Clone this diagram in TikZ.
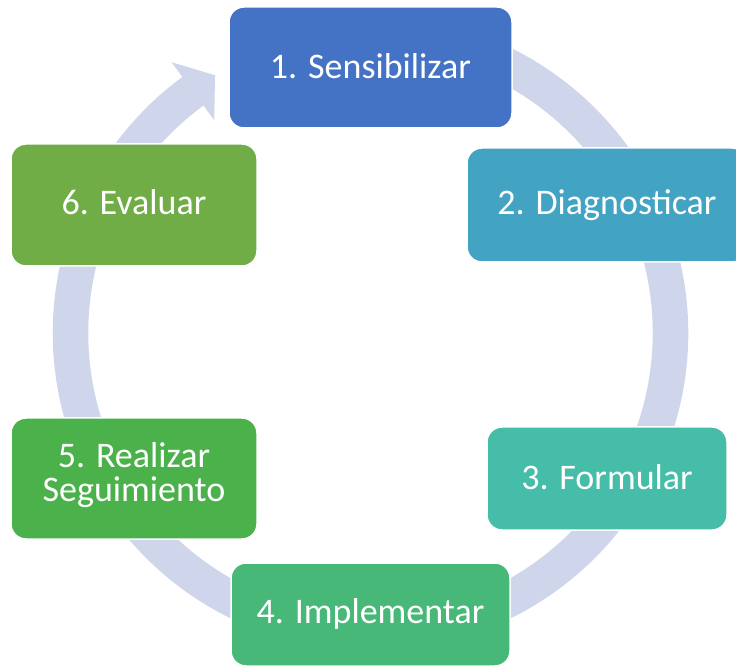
\documentclass[tikz,border=0pt]{standalone}
\usepackage{fontspec}
\setmainfont{Carlito}
\definecolor{ringc}{HTML}{CFD5EA}
\definecolor{cA}{HTML}{4472C4}
\definecolor{cB}{HTML}{43A3C2}
\definecolor{cC}{HTML}{45BDA8}
\definecolor{cD}{HTML}{47B878}
\definecolor{cE}{HTML}{4BB14A}
\definecolor{cF}{HTML}{70AD47}
\begin{document}
\begin{tikzpicture}[x=1pt,y=1pt,
  box/.style={draw=white, line width=1.5pt, rounded corners=15pt, inner sep=0pt},
  lbl/.style={anchor=base, text=white, inner sep=0pt, font=\fontsize{36}{34}\selectfont}]
\useasboundingbox (0,0) rectangle (736,667);
\clip (0,0) rectangle (736,667);
% ring with arrowhead
\begin{scope}[shift={(370.5,334)}]
\fill[ringc] (100:317.75) arc[start angle=100, end angle=-233.7, radius=317.75]
  -- (-233.7:336) -- (121.1:301) -- (-233.7:264) -- (-233.7:282.25)
  arc[start angle=-233.7, end angle=100, radius=282.25] -- cycle;
\end{scope}
% boxes
\node[box, fill=cA, minimum width=283pt, minimum height=121pt] (s1) at (370.5,599.5) {};
\node[box, fill=cB, minimum width=280pt, minimum height=114pt] (s2) at (607,462) {};
\node[box, fill=cC, minimum width=240pt, minimum height=103pt] (s3) at (607,188.5) {};
\node[box, fill=cD, minimum width=279pt, minimum height=103pt] (s4) at (370.5,52.5) {};
\node[box, fill=cE, minimum width=246pt, minimum height=121pt] (s5) at (134,188.5) {};
\node[box, fill=cF, minimum width=246pt, minimum height=122pt] (s6) at (134,462) {};
% labels
\node[lbl] (t1) at ([yshift=-11pt]s1.center) {1. Sensibilizar};
\node[lbl] (t2) at ([yshift=-10pt]s2.center) {2. Diagnosticar};
\node[lbl] (t3) at ([yshift=-11pt]s3.center) {3. Formular};
\node[lbl] (t4) at ([yshift=-9pt]s4.center) {4. Implementar};
\node[lbl] (t5a) at (134,199) {5. Realizar};
\node[lbl] (t5b) at (134,165) {Seguimiento};
\node[lbl] (t6) at ([yshift=-10pt]s6.center) {6. Evaluar};
\end{tikzpicture}
\end{document}
